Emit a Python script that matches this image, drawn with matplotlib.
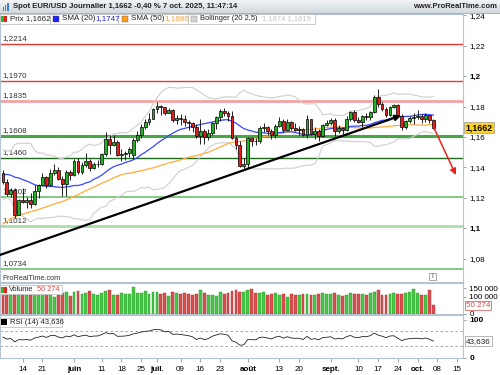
import numpy as np
import pandas as pd
import matplotlib
matplotlib.use("Agg")
import matplotlib.pyplot as plt
from matplotlib.patches import Rectangle
from matplotlib.colors import LinearSegmentedColormap

plt.rcParams['font.family'] = ['Liberation Sans', 'DejaVu Sans']

W, H = 500, 375

# closes before the visible window, only used to warm up the indicators
history_closes = [1.0513, 1.0485, 1.0398, 1.0375,
                  1.0485, 1.0625, 1.0790, 1.0785, 1.0835,
                  1.0835, 1.0920, 1.0890, 1.0850, 1.0880,
                  1.0922, 1.0945, 1.0900, 1.0855, 1.0815,
                  1.0800, 1.0790, 1.0752, 1.0800, 1.0830,
                  1.0815, 1.0790, 1.0852, 1.1050, 1.0960,
                  1.0910, 1.0960, 1.0950, 1.1185, 1.1360,
                  1.1350, 1.1285, 1.1400, 1.1370, 1.1375,
                  1.1515, 1.1420, 1.1315, 1.1390, 1.1365,
                  1.1420, 1.1385, 1.1330, 1.1290, 1.1300,
                  1.1315, 1.1365]

# daily candles, 7 May 2025 -> 7 Oct 2025
opens = [1.1365, 1.1302, 1.1225, 1.1250, 1.1090, 1.1187, 1.1175, 1.1187, 1.1160, 1.1243,
         1.1285, 1.1335, 1.1285, 1.1365, 1.1385, 1.1325, 1.1290, 1.1370, 1.1350, 1.1440,
         1.1370, 1.1418, 1.1445, 1.1395, 1.1420, 1.1425, 1.1485, 1.1585, 1.1550, 1.1565,
         1.1480, 1.1485, 1.1495, 1.1480, 1.1580, 1.1612, 1.1665, 1.1700, 1.1718, 1.1785,
         1.1802, 1.1795, 1.1755, 1.1775, 1.1712, 1.1722, 1.1715, 1.1700, 1.1690, 1.1665,
         1.1605, 1.1640, 1.1598, 1.1625, 1.1690, 1.1730, 1.1768, 1.1760, 1.1740, 1.1595,
         1.1545, 1.1410, 1.1420, 1.1590, 1.1575, 1.1572, 1.1660, 1.1668, 1.1640, 1.1612,
         1.1675, 1.1705, 1.1648, 1.1700, 1.1660, 1.1648, 1.1652, 1.1612, 1.1718, 1.1620,
         1.1642, 1.1605, 1.1682, 1.1692, 1.1710, 1.1640, 1.1658, 1.1645, 1.1718, 1.1762,
         1.1710, 1.1700, 1.1735, 1.1732, 1.1762, 1.1865, 1.1815, 1.1785, 1.1745, 1.1800,
         1.1810, 1.1740, 1.1665, 1.1702, 1.1725, 1.1732, 1.1735, 1.1720, 1.1742, 1.1710]
highs = [1.1380, 1.1325, 1.1265, 1.1265, 1.1195, 1.1265, 1.1205, 1.1230, 1.1285, 1.1290,
         1.1365, 1.1345, 1.1390, 1.1420, 1.1405, 1.1345, 1.1385, 1.1385, 1.1455, 1.1460,
         1.1435, 1.1495, 1.1455, 1.1435, 1.1450, 1.1495, 1.1632, 1.1614, 1.1615, 1.1580,
         1.1520, 1.1505, 1.1535, 1.1595, 1.1640, 1.1685, 1.1715, 1.1755, 1.1790, 1.1830,
         1.1810, 1.1800, 1.1790, 1.1785, 1.1745, 1.1750, 1.1745, 1.1710, 1.1700, 1.1685,
         1.1720, 1.1650, 1.1650, 1.1700, 1.1735, 1.1785, 1.1790, 1.1770, 1.1770, 1.1605,
         1.1575, 1.1460, 1.1600, 1.1600, 1.1590, 1.1670, 1.1690, 1.1672, 1.1655, 1.1685,
         1.1730, 1.1715, 1.1715, 1.1705, 1.1690, 1.1675, 1.1660, 1.1745, 1.1720, 1.1665,
         1.1655, 1.1685, 1.1710, 1.1725, 1.1722, 1.1680, 1.1665, 1.1735, 1.1770, 1.1780,
         1.1730, 1.1745, 1.1760, 1.1770, 1.1878, 1.1918, 1.1830, 1.1795, 1.1805, 1.1820,
         1.1820, 1.1750, 1.1710, 1.1735, 1.1755, 1.1780, 1.1750, 1.1755, 1.1745, 1.1715]
lows = [1.1290, 1.1210, 1.1205, 1.1065, 1.1085, 1.1165, 1.1130, 1.1130, 1.1150, 1.1200,
        1.1280, 1.1265, 1.1275, 1.1350, 1.1315, 1.1215, 1.1210, 1.1315, 1.1345, 1.1355,
        1.1355, 1.1405, 1.1375, 1.1390, 1.1405, 1.1415, 1.1475, 1.1490, 1.1540, 1.1475,
        1.1445, 1.1450, 1.1470, 1.1455, 1.1570, 1.1590, 1.1655, 1.1680, 1.1715, 1.1760,
        1.1745, 1.1745, 1.1755, 1.1700, 1.1685, 1.1680, 1.1675, 1.1645, 1.1630, 1.1595,
        1.1555, 1.1555, 1.1580, 1.1615, 1.1655, 1.1705, 1.1740, 1.1705, 1.1585, 1.1520,
        1.1400, 1.1390, 1.1395, 1.1540, 1.1550, 1.1560, 1.1630, 1.1615, 1.1585, 1.1590,
        1.1665, 1.1630, 1.1645, 1.1645, 1.1640, 1.1615, 1.1605, 1.1590, 1.1615, 1.1585,
        1.1575, 1.1600, 1.1670, 1.1680, 1.1605, 1.1625, 1.1610, 1.1640, 1.1705, 1.1700,
        1.1690, 1.1665, 1.1710, 1.1710, 1.1755, 1.1795, 1.1770, 1.1730, 1.1735, 1.1790,
        1.1730, 1.1645, 1.1655, 1.1690, 1.1685, 1.1715, 1.1690, 1.1700, 1.1690, 1.1650]
closes = [1.1302, 1.1225, 1.1250, 1.1090, 1.1187, 1.1175, 1.1187, 1.1160, 1.1243, 1.1285,
          1.1335, 1.1285, 1.1365, 1.1385, 1.1325, 1.1290, 1.1370, 1.1350, 1.1440, 1.1370,
          1.1418, 1.1445, 1.1395, 1.1420, 1.1425, 1.1485, 1.1585, 1.1550, 1.1565, 1.1480,
          1.1485, 1.1495, 1.1520, 1.1580, 1.1612, 1.1665, 1.1700, 1.1718, 1.1785, 1.1802,
          1.1795, 1.1755, 1.1775, 1.1712, 1.1722, 1.1715, 1.1700, 1.1690, 1.1665, 1.1605,
          1.1640, 1.1598, 1.1625, 1.1690, 1.1730, 1.1768, 1.1760, 1.1740, 1.1595, 1.1545,
          1.1410, 1.1420, 1.1590, 1.1575, 1.1572, 1.1660, 1.1668, 1.1640, 1.1612, 1.1675,
          1.1705, 1.1648, 1.1700, 1.1660, 1.1648, 1.1652, 1.1612, 1.1718, 1.1620, 1.1642,
          1.1605, 1.1682, 1.1692, 1.1710, 1.1640, 1.1658, 1.1645, 1.1718, 1.1762, 1.1710,
          1.1700, 1.1735, 1.1732, 1.1762, 1.1865, 1.1815, 1.1785, 1.1745, 1.1800, 1.1810,
          1.1740, 1.1665, 1.1702, 1.1725, 1.1732, 1.1735, 1.1720, 1.1742, 1.1710, 1.1662]
volumes = [121000, 127000, 109000, 138000, 129000, 116000, 112000, 119000, 114000, 108000,
           125000, 118000, 121000, 97000, 113000, 124000, 128000, 104000, 126000, 133000,
           115000, 122000, 131000, 117000, 111000, 120000, 134000, 137000, 113000, 110000,
           121000, 117000, 119000, 156000, 124000, 121000, 131000, 119000, 128000, 125000,
           117000, 123000, 104000, 127000, 120000, 114000, 124000, 115000, 111000, 119000,
           140000, 121000, 110000, 112000, 107000, 125000, 118000, 123000, 136000, 138000,
           129000, 127000, 142000, 148000, 121000, 124000, 126000, 112000, 118000, 124000,
           109000, 119000, 101000, 116000, 113000, 110000, 114000, 118000, 113000, 111000,
           116000, 124000, 114000, 118000, 123000, 111000, 102000, 108000, 124000, 114000,
           115000, 119000, 110000, 120000, 128000, 138000, 113000, 112000, 116000, 122000,
           116000, 119000, 124000, 130000, 145000, 121000, 110000, 113000, 139000, 50274]

levels = [1.2214, 1.1970, 1.1835, 1.1608, 1.1460, 1.1202, 1.1012, 1.0734]
level_labels = ['1,2214', '1,1970', '1,1835', '1,1608', '1,1460', '1,1202', '1,1012', '1,0734']
level_colors = ['#e53a33', '#e53a33', '#f3a2a2', '#45a845', '#1d6a1d', '#6fbf6f', '#acdcac', '#6fbf6f']
level_widths = [1.0, 1.0, 2.0, 2.2, 1.0, 1.2, 2.0, 1.2]

price_ticks = [1.08, 1.10, 1.12, 1.14, 1.16, 1.18, 1.20, 1.22, 1.24]
price_tick_labels = ['1,08', '1,1', '1,12', '1,14', '1,16', '1,18', '1,2', '1,22', '1,24']

tick_days = ['2025-05-14', '2025-05-21', '2025-06-02', '2025-06-11', '2025-06-18', '2025-06-25',
             '2025-07-01', '2025-07-09', '2025-07-16', '2025-07-23', '2025-08-01', '2025-08-13',
             '2025-08-20', '2025-09-01', '2025-09-10', '2025-09-17', '2025-09-24', '2025-10-01',
             '2025-10-08', '2025-10-15']
tick_labels = ['14', '21', 'juin', '11', '18', '25', 'juil.', '09', '16', '23', 'août', '13',
               '20', 'sept.', '10', '17', '24', 'oct.', '08', '15']
month_labels = {'juin', 'juil.', 'août', 'sept.', 'oct.'}

last_price = 1.1662
rsi_last = 43.636

# trend line drawn by hand on the chart (bar index, price)
trend_start = (-0.75, 1.0824)
trend_end = (100.8, 1.1741)
arrow_start = (109, 1.1668)
arrow_end = (114.7, 1.1350)

# ---------------------------------------------------------------------------
o, h, l, c = (np.array(v) for v in (opens, highs, lows, closes))
n = len(c)
x = np.arange(n)
up = c >= o

all_closes = pd.Series(history_closes + closes)
k = len(history_closes)
sma20 = all_closes.rolling(20).mean().values[k:]
std20 = all_closes.rolling(20).std(ddof=0).values[k:]
sma50 = all_closes.rolling(50).mean().values[k:]
delta = all_closes.diff()
gain = delta.clip(lower=0).ewm(alpha=1 / 14, adjust=False).mean()
loss = (-delta.clip(upper=0)).ewm(alpha=1 / 14, adjust=False).mean()
rsi = (100 - 100 / (1 + gain / loss)).values[k:]

axis_days = pd.bdate_range('2025-05-07', '2025-10-31')
tick_pos = axis_days.get_indexer(pd.to_datetime(tick_days))


def box(x0, y0, x1, y1):
    return [x0 / W, 1 - y1 / H, (x1 - x0) / W, (y1 - y0) / H]


def ftext(px, py, s, **kw):
    kw.setdefault('va', 'center')
    kw.setdefault('fontsize', 5.8)
    return fig.text(px / W, 1 - py / H, s, **kw)


def frect(x0, y0, x1, y1, **kw):
    r = Rectangle((x0 / W, 1 - y1 / H), (x1 - x0) / W, (y1 - y0) / H,
                  transform=fig.transFigure, **kw)
    fig.add_artist(r)
    return r


XLIM = (-0.75, 116.5)
EDGE = '#b4c3cf'

fig = plt.figure(figsize=(5, 3.75), dpi=100)
fig.patch.set_facecolor('white')

# ---- price panel
ax = fig.add_axes(box(0, 14, 463, 282))
ax.set_xlim(*XLIM)
ax.set_ylim(1.0646, 1.2409)
for lvl, lab, col, lw in zip(levels, level_labels, level_colors, level_widths):
    ax.axhline(lvl, color=col, lw=lw, zorder=1)
    ax.text(0.006, lvl + 0.0013, lab, transform=ax.get_yaxis_transform(),
            fontsize=5.8, color='#333333', va='bottom', zorder=2)

ax.plot(x, sma20 + 2.5 * std20, color='#cfcfcf', lw=0.8, zorder=2)
ax.plot(x, sma20 - 2.5 * std20, color='#cfcfcf', lw=0.8, zorder=2)
ax.plot(x, sma50, color='#ffad3a', lw=0.9, zorder=2)
ax.plot(x, sma20, color='#3846ff', lw=0.9, zorder=2)

ax.vlines(x, l, h, color='black', lw=0.6, zorder=3)
body = np.maximum(np.abs(c - o), 0.0003)
ax.bar(x, body, bottom=np.minimum(o, c), width=0.72,
       color=np.where(up, '#22b322', '#e0201c'), edgecolor='black', lw=0.5, zorder=4)

ax.annotate('', xy=trend_end, xytext=trend_start, zorder=5,
            arrowprops=dict(arrowstyle='-|>', color='black', lw=1.6, mutation_scale=8,
                            shrinkA=0, shrinkB=0))
ax.annotate('', xy=arrow_end, xytext=arrow_start, zorder=5,
            arrowprops=dict(arrowstyle='-|>', color='#e8231e', lw=1.1, mutation_scale=9,
                            shrinkA=0, shrinkB=0))

ax.yaxis.tick_right()
ax.set_yticks(price_ticks)
ax.set_yticklabels(price_tick_labels)
for t in ax.get_yticklabels():
    if t.get_text() in ('1,1', '1,2'):
        t.set_fontweight('bold')
ax.tick_params(axis='y', direction='out', length=2.5, width=0.6, color='#8899aa',
               labelsize=5.8, pad=2)
ax.set_xticks([])
for s in ax.spines.values():
    s.set_color(EDGE)
    s.set_linewidth(0.8)
ax.text(1.005, last_price, '1,1662', transform=ax.get_yaxis_transform(), fontsize=6.3,
        fontweight='bold', va='center', ha='left', zorder=6, clip_on=False,
        bbox=dict(boxstyle='square,pad=0.15', fc='#ffd21f', ec='#9a9a9a', lw=0.5))

# ---- volume panel
axv = fig.add_axes(box(0, 283, 463, 314))
axv.set_xlim(*XLIM)
axv.set_ylim(0, 180000)
axv.bar(x, volumes, width=0.72, color=np.where(up, '#46c646', '#db4e4e'),
        edgecolor=np.where(up, '#2a962a', '#a83030'), lw=0.3)
axv.yaxis.tick_right()
axv.set_yticks([0, 100000, 150000])
axv.set_yticklabels(['0', '100 000', '150 000'])
axv.tick_params(axis='y', direction='out', length=2.5, width=0.6, color='#8899aa',
                labelsize=5.8, pad=2)
axv.set_xticks([])
for s in axv.spines.values():
    s.set_color(EDGE)
    s.set_linewidth(0.8)
axv.text(1.006, volumes[-1], '50 274', transform=axv.get_yaxis_transform(), fontsize=5.8,
         color='#e04848', va='center', ha='left', clip_on=False, zorder=6,
         bbox=dict(boxstyle='square,pad=0.15', fc='white', ec='#e04848', lw=0.5))

# ---- RSI panel
axr = fig.add_axes(box(0, 315, 463, 358))
axr.set_xlim(*XLIM)
axr.set_ylim(-1.3, 113.3)
axr.axhline(70, color='#9a9a9a', lw=0.6, ls=(0, (3, 3)))
axr.axhline(30, color='#9a9a9a', lw=0.6, ls=(0, (3, 3)))
axr.plot(x, rsi, color='#222222', lw=0.6)
axr.yaxis.tick_right()
axr.set_yticks([0, 100])
axr.set_yticklabels(['0', '100'], fontweight='bold')
axr.tick_params(axis='y', direction='out', length=2.5, width=0.6, color='#8899aa',
                labelsize=6, pad=2)
axr.set_xticks(tick_pos)
axr.set_xticklabels(tick_labels)
for t in axr.get_xticklabels():
    if t.get_text() in month_labels:
        t.set_fontweight('bold')
axr.tick_params(axis='x', direction='out', length=3, width=0.6, color='#8899aa',
                labelsize=5.8, pad=2.5)
for s in axr.spines.values():
    s.set_color(EDGE)
    s.set_linewidth(0.8)
axr.text(1.006, rsi_last, '43,636', transform=axr.get_yaxis_transform(), fontsize=5.8,
         color='#222222', va='center', ha='left', clip_on=False, zorder=6,
         bbox=dict(boxstyle='square,pad=0.15', fc='white', ec='#9a9a9a', lw=0.5))

# ---- title bar
axt = fig.add_axes(box(0, 0, 500, 14))
grad = np.linspace(0, 1, 16).reshape(-1, 1)
axt.imshow(grad, aspect='auto', extent=(0, 1, 0, 1),
           cmap=LinearSegmentedColormap.from_list('bar', ['#f1f3f5', '#cfd7de']))
axt.axis('off')
frect(0, 13.4, 500, 14, fc='#a9b6c1', ec='none', zorder=5)
for bx, bh in zip([2.5, 4.8, 7.1], [4, 6, 8]):
    frect(bx, 11 - bh, bx + 1.5, 11, fc='#3f7fd0', ec='none', zorder=6)
ftext(13, 7, 'Spot EUR/USD Journalier 1,1662 -0,40 % 7 oct. 2025, 11:47:14',
      fontsize=5.6, fontweight='bold', color='#222222')
ftext(497, 7, 'www.ProRealTime.com', fontsize=5.5, fontweight='bold', color='#222222', ha='right')

# ---- legend row of the price panel
legend_boxes = [(0, 50), (50, 118), (118, 188), (188, 315)]
for x0, x1 in legend_boxes:
    frect(x0, 14.5, x1, 23.5, fc='white', ec='#c3c3c3', lw=0.6, zorder=5)
frect(0.5, 16, 3.5, 22, fc='#2bb82b', ec='none', zorder=6)
frect(3.5, 16, 6.5, 22, fc='#e0201c', ec='none', zorder=6)
ftext(10, 19, 'Prix 1,1662', color='#222222', zorder=7)
frect(53, 16, 59, 22, fc='#1f1fff', ec='#555555', lw=0.3, zorder=6)
ftext(62, 19, 'SMA (20)', color='#222222', zorder=7)
ftext(95, 19, '1,1747', color='#2424e6', zorder=7)
frect(122, 16, 128, 22, fc='#ff9a1a', ec='#666666', lw=0.3, zorder=6)
ftext(131, 19, 'SMA (50)', color='#222222', zorder=7)
ftext(164, 19, '1,1686', color='#f3a03a', zorder=7)
frect(191, 16, 197, 22, fc='#d2d2d2', ec='#888888', lw=0.3, zorder=6)
ftext(200, 19, 'Bollinger (20 2,5)', fontsize=5.4, color='#222222', zorder=7)
ftext(262, 19, '1,1874 1,1619', fontsize=5.4, color='#c4c4c4', zorder=7)

# ---- under the price panel
ftext(2, 278, 'ProRealTime.com', fontsize=5.3, color='#333333', zorder=7)
frect(429, 272.5, 436, 279.5, fc='white', ec='#9a9a9a', lw=0.6, zorder=6)
ftext(432.5, 276, 'i', fontsize=5.5, color='#666666', ha='center', zorder=7)

# ---- volume / RSI legends
frect(0, 285, 62, 294, fc='white', ec='#c3c3c3', lw=0.6, zorder=5)
frect(0.5, 286.5, 3.5, 292.5, fc='#2bb82b', ec='none', zorder=6)
frect(3.5, 286.5, 6.5, 292.5, fc='#e0201c', ec='none', zorder=6)
ftext(9, 289.5, 'Volume', fontsize=5.3, color='#222222', zorder=7)
ftext(37, 289.5, '50 274', fontsize=5.3, color='#e04848', zorder=7)
frect(0, 317.5, 62, 326.5, fc='white', ec='#c3c3c3', lw=0.6, zorder=5)
frect(1, 319, 7, 325, fc='black', ec='none', zorder=6)
ftext(10, 322, 'RSI (14) 43,636', fontsize=5.5, color='#222222', zorder=7)

fig.savefig('out.png', dpi=100)
